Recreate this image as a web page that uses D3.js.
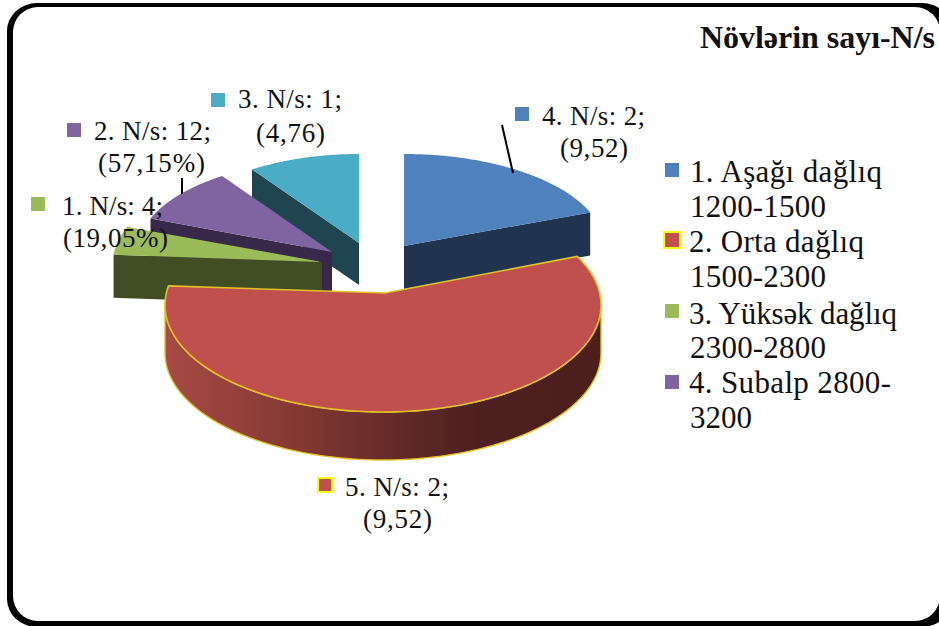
<!DOCTYPE html>
<html>
<head>
<meta charset="utf-8">
<script src="https://cdn.jsdelivr.net/npm/d3@7"></script>
<style>
  html, body { margin: 0; padding: 0; background: #fff; overflow: hidden; }
  svg { display: block; }
  text { font-family: "Liberation Serif", "Times New Roman", serif; fill: #111; }
</style>
</head>
<body>
<svg id="chart" width="939" height="626"></svg>
<script>
// Species counts per altitude belt
const sliceValues = [4, 12, 1, 2, 2];
const sliceNames = ["blue", "red", "green", "purple", "teal"];
const topColors = ["#4f81bd", "#c0504d", "#9bbb59", "#8064a2", "#4bacc6"];
const faceColors = ["#20344f", "#4d1f1e", "#414d23", "#38284a", "#1f4650"];

const titleText = "Növlərin sayı-N/s";
const legendLines = [
  ["1. Aşağı dağlıq", "1200-1500"],
  ["2. Orta dağlıq", "1500-2300"],
  ["3. Yüksək dağlıq", "2300-2800"],
  ["4. Subalp 2800-", "3200"]
];
const dataLabelLines = [
  ["1. N/s: 4;", "(19,05%)"],
  ["2. N/s: 12;", "(57,15%)"],
  ["3. N/s: 1;", "(4,76)"],
  ["4. N/s: 2;", "(9,52)"],
  ["5. N/s: 2;", "(9,52)"]
];
const dataLabelSwatch = ["green", "purple", "teal", "blue", "red"];

// Exploded, foreshortened placement of each wedge: apex, rim ellipse, depth.
// The large front wedge sits in stronger perspective, so its rim ellipse is
// centred below its apex and the rim angle is skewed by `skew` degrees.
const wedgeLayout = {
  blue:   { cx: 404, cy: 246, rx: 200, ry: 92,  depth: 43, rimCx: 404, rimCy: 246, skew: 0 },
  red:    { cx: 385, cy: 293, rx: 218, ry: 107, depth: 48, rimCx: 383, rimCy: 305, skew: 6 },
  green:  { cx: 322, cy: 262, rx: 209, ry: 96,  depth: 43, rimCx: 322, rimCy: 262, skew: 0 },
  purple: { cx: 332, cy: 252, rx: 195, ry: 92,  depth: 42, rimCx: 332, rimCy: 252, skew: 0 },
  teal:   { cx: 359, cy: 243, rx: 190, ry: 89,  depth: 42, rimCx: 359, rimCy: 243, skew: 0 }
};
const drawOrder = ["teal", "blue", "purple", "green", "red"];

const svg = d3.select("#chart");
const defs = svg.append("defs");

// Shading along the curved wall of the large wedge
const wallGradient = defs.append("linearGradient")
  .attr("id", "wall-red")
  .attr("gradientUnits", "userSpaceOnUse")
  .attr("x1", 165).attr("x2", 601).attr("y1", 0).attr("y2", 0);
[[0, "#a84a45"], [0.3, "#843833"], [0.55, "#602a27"], [0.72, "#4d1f1e"], [1, "#4c1f1d"]]
  .forEach(([o, c]) => wallGradient.append("stop").attr("offset", o).attr("stop-color", c));

// Rounded outer frame; its right side runs past the page edge
svg.append("rect")
  .attr("x", 7).attr("y", 3).attr("width", 945).attr("height", 624)
  .attr("rx", 30).attr("ry", 28).attr("fill", "#000");
svg.append("rect")
  .attr("x", 13).attr("y", 7).attr("width", 927).attr("height", 614)
  .attr("rx", 25).attr("ry", 25).attr("fill", "#fff");

const pie = d3.pie().sort(null).value(d => d);
const arcs = pie(sliceValues);
const byName = new Map(sliceNames.map((n, i) => [n, i]));
const pieLayer = svg.append("g");

drawOrder.forEach(name => {
  const i = byName.get(name);
  const a = arcs[i];
  const g = wedgeLayout[name];
  const x = d3.scaleLinear().domain([-1, 1]).range([g.rimCx - g.rx, g.rimCx + g.rx]);
  const y = d3.scaleLinear().domain([-1, 1]).range([g.rimCy - g.ry, g.rimCy + g.ry]);
  const skew = t => t - (g.skew * Math.PI / 180) * Math.sin(t);
  const px = t => x(Math.sin(t));
  const py = t => y(-Math.cos(t));
  const isRed = name === "red";
  const edge = isRed ? "#e3c126" : "none";
  const wedge = pieLayer.append("g").attr("class", "wedge-" + name);

  const t0 = skew(a.startAngle);
  const t1 = skew(a.endAngle);

  // Flat cut faces that turn toward the viewer
  const faces = [];
  if (Math.sin(a.startAngle) < -1e-6) faces.push(t0);
  if (Math.sin(a.endAngle) > 1e-6) faces.push(t1);
  faces.forEach(t => {
    const band = d3.area().x(d => d[0]).y0(d => d[1]).y1(d => d[1] + g.depth);
    wedge.append("path")
      .attr("d", band([[g.cx, g.cy], [px(t), py(t)]]))
      .attr("fill", faceColors[i]);
  });

  // Curved outer wall along the front half of the ellipse
  const lo = Math.max(t0, Math.PI / 2);
  const hi = Math.min(t1, Math.PI * 1.5);
  if (hi > lo) {
    const steps = d3.range(0, 121).map(k => lo + (hi - lo) * k / 120);
    const wall = d3.area().x(px).y0(py).y1(t => py(t) + g.depth);
    wedge.append("path")
      .attr("d", wall(steps))
      .attr("fill", isRed ? "url(#wall-red)" : faceColors[i])
      .attr("stroke", edge).attr("stroke-width", 1.4);
  }

  // Top surface: apex plus the rim sampled between the pie's angles
  const rim = d3.range(0, 161).map(k => t0 + (t1 - t0) * k / 160);
  const outline = [[g.cx, g.cy], ...rim.map(t => [px(t), py(t)])];
  wedge.append("path")
    .attr("d", d3.line()(outline) + "Z")
    .attr("fill", topColors[i])
    .attr("stroke", edge)
    .attr("stroke-width", 1.6);
});

// Leader lines from the labels
const leaders = [
  { x1: 502, y1: 125, x2: 513, y2: 173 },
  { x1: 182, y1: 178, x2: 182, y2: 194 }
];
svg.selectAll("line.leader").data(leaders).join("line")
  .attr("class", "leader")
  .attr("x1", d => d.x1).attr("y1", d => d.y1)
  .attr("x2", d => d.x2).attr("y2", d => d.y2)
  .attr("stroke", "#000").attr("stroke-width", 2);

function swatch(sel, name, x, y, size) {
  const i = byName.get(name);
  const isRed = name === "red";
  sel.append("rect")
    .attr("x", x).attr("y", y).attr("width", size).attr("height", size)
    .attr("fill", topColors[i])
    .attr("stroke", isRed ? "#ffff00" : "none")
    .attr("stroke-width", isRed ? 2 : 0);
}

function fitted(sel, str, x, y, size, width, weight) {
  sel.append("text")
    .attr("x", x).attr("y", y)
    .attr("font-size", size)
    .attr("font-weight", weight || "normal")
    .attr("textLength", width)
    .attr("lengthAdjust", "spacing")
    .text(str);
}

// Title
fitted(svg, titleText, 700, 48, 32, 235, "bold");

// Data labels around the pie
const labelPlace = [
  { sw: [31, 197, 14],  a: [62, 215, 101],  b: [63, 247, 105] },
  { sw: [67, 123, 14],  a: [94, 140, 117],  b: [98, 172, 107] },
  { sw: [211, 93, 14],  a: [238, 108, 104], b: [256, 142, 69] },
  { sw: [515, 107, 14], a: [542, 125, 103], b: [560, 157, 68] },
  { sw: [318, 478, 14], a: [345, 496, 104], b: [363, 528, 69] }
];
dataLabelLines.forEach((lines, i) => {
  const p = labelPlace[i];
  swatch(svg, dataLabelSwatch[i], p.sw[0], p.sw[1], p.sw[2]);
  fitted(svg, lines[0], p.a[0], p.a[1], 27, p.a[2]);
  fitted(svg, lines[1], p.b[0], p.b[1], 27, p.b[2]);
});

// Legend
const legendPlace = [
  { sw: [665, 163, 14], a: [690, 182, 192], b: [690, 217, 136] },
  { sw: [664, 232, 16], a: [689, 252, 175], b: [690, 287, 136] },
  { sw: [665, 304, 14], a: [689, 324, 208], b: [690, 358, 136] },
  { sw: [665, 375, 14], a: [689, 393, 202], b: [690, 428, 62] }
];
const legendSwatch = ["blue", "red", "green", "purple"];
legendLines.forEach((lines, i) => {
  const p = legendPlace[i];
  swatch(svg, legendSwatch[i], p.sw[0], p.sw[1], p.sw[2]);
  fitted(svg, lines[0], p.a[0], p.a[1], 31, p.a[2]);
  fitted(svg, lines[1], p.b[0], p.b[1], 31, p.b[2]);
});
</script>
</body>
</html>
